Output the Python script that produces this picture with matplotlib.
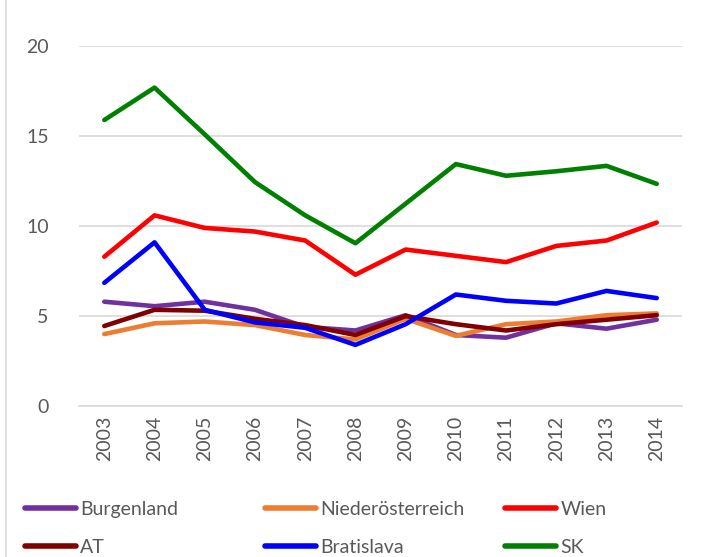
import numpy as np
import matplotlib; matplotlib.use('Agg')
import matplotlib.pyplot as plt
from matplotlib.lines import Line2D

years = ['2003', '2004', '2005', '2006', '2007', '2008',
         '2009', '2010', '2011', '2012', '2013', '2014']

burgenland = [5.8, 5.55, 5.8, 5.35, 4.4, 4.2, 5.05, 3.95, 3.8, 4.6, 4.3, 4.8]
niederoesterreich = [4.0, 4.6, 4.7, 4.5, 3.95, 3.7, 4.85, 3.9, 4.55, 4.7, 5.05, 5.15]
wien = [8.3, 10.6, 9.9, 9.7, 9.2, 7.3, 8.7, 8.35, 8.0, 8.9, 9.2, 10.2]
at = [4.45, 5.35, 5.3, 4.85, 4.5, 3.95, 5.0, 4.55, 4.2, 4.55, 4.8, 5.05]
bratislava = [6.85, 9.1, 5.35, 4.65, 4.35, 3.4, 4.55, 6.2, 5.85, 5.7, 6.4, 6.0]
sk = [15.9, 17.7, 15.1, 12.45, 10.6, 9.05, 11.25, 13.45, 12.8, 13.05, 13.35, 12.35]

series = [
    ('Burgenland', burgenland, '#7030A0'),
    ('Niederösterreich', niederoesterreich, '#ED7D31'),
    ('Wien', wien, '#FF0000'),
    ('AT', at, '#800000'),
    ('Bratislava', bratislava, '#0000FF'),
    ('SK', sk, '#008000'),
]

plt.rcParams['font.family'] = ['Lato', 'DejaVu Sans']
txt = '#595959'

fig = plt.figure(figsize=(7.2, 5.57), dpi=100)
ax = fig.add_axes([0.11, 0.271, 0.837, 0.646])

x = np.arange(len(years))
handles = {}
for name, vals, col in series:
    ln, = ax.plot(x, vals, color=col, lw=3.3, solid_capstyle='round',
                  solid_joinstyle='round', label=name)
    handles[name] = ln

ax.set_xlim(-0.5, len(years) - 0.5)
ax.set_ylim(0, 20)
ax.set_yticks([0, 5, 10, 15, 20])
ax.set_xticks(x)
ax.set_xticklabels(years, rotation=90)
ax.grid(axis='y', color='#D9D9D9', lw=1.2)
ax.set_axisbelow(True)
for s in ['top', 'right', 'left']:
    ax.spines[s].set_visible(False)
ax.spines['bottom'].set_color('#D9D9D9')
ax.spines['bottom'].set_linewidth(1.2)
ax.tick_params(axis='both', length=0, labelsize=14, colors=txt, pad=7)
ax.tick_params(axis='y', pad=22)

# legend: three columns, two rows, placed like the original
cols = [['Burgenland', 'AT'], ['Niederösterreich', 'Bratislava'], ['Wien', 'SK']]
col_x = [25 / 720, 265 / 720, 505 / 720]
for names, cx in zip(cols, col_x):
    hs = [Line2D([], [], color=handles[n].get_color(), lw=4, solid_capstyle='round') for n in names]
    leg = fig.legend(hs, names, loc='upper left', bbox_to_anchor=(cx, 0.101),
                     frameon=False, fontsize=14, handlelength=2.6, handletextpad=0.25,
                     labelspacing=1.1, borderaxespad=0, borderpad=0)
    for t in leg.get_texts():
        t.set_color(txt)

# chart border on the left edge
fig.add_artist(Line2D([0.008, 0.008], [0, 1], color='#D9D9D9', lw=1.2,
                      transform=fig.transFigure))

fig.savefig('out.png', dpi=100)
